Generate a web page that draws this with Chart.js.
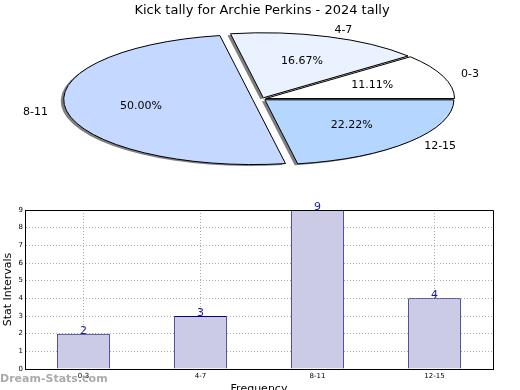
<!DOCTYPE html>
<html>
<head>
<meta charset="utf-8">
<script src="https://cdn.jsdelivr.net/npm/chart.js@4.4.1/dist/chart.umd.min.js"></script>
<style>
  html, body { margin: 0; padding: 0; background: #fff; overflow: hidden; }
  #wrap { position: relative; width: 520px; height: 390px; overflow: hidden; }
  #pie { position: absolute; left: 0; top: 0; }
  #bar { position: absolute; left: 0; top: 190px; }
</style>
</head>
<body>
<div id="wrap">
  <canvas id="pie" width="520" height="190"></canvas>
  <canvas id="bar" width="520" height="212"></canvas>
</div>
<script>
// ---- data ----
const titleText = 'Kick tally for Archie Perkins - 2024 tally';
const intervals = ['0-3', '4-7', '8-11', '12-15'];
const kicks = [2, 3, 9, 4];
const yMax = 9;
const yTitle = 'Stat Intervals';
const xTitle = 'Frequency';
const watermark = 'Dream-Stats.com';

// ---- styles ----
const sliceColors = ['#ffffff', '#eaf1ff', '#c5d8ff', '#b4d6ff'];
const explode = [0.02, 0.02, 0.05, 0.02];
const PIE_R = 189;
const SQUASH = 65 / 189;
const FONT = '"DejaVu Sans", sans-serif';

// pie is drawn as a circle by Chart.js, then squashed into an ellipse
const squashedPie = {
  id: 'squashedPie',
  beforeDatasetsDraw(chart) {
    const ctx = chart.ctx;
    const dpr = chart.currentDevicePixelRatio || 1;
    const arcs = chart.getDatasetMeta(0).data;
    let shadowPass = true;
    // keep outlines 1px in screen space
    ctx.stroke = function () {
      if (shadowPass) return;
      this.save();
      this.setTransform(dpr, 0, 0, dpr, 0, 0);
      CanvasRenderingContext2D.prototype.stroke.call(this);
      this.restore();
    };
    [true, false].forEach(pass => {
      shadowPass = pass;
      arcs.forEach((arc, i) => {
        const mid = (arc.startAngle + arc.endAngle) / 2;
        const push = explode[i] * arc.outerRadius;
        ctx.save();
        if (pass) {
          ctx.shadowColor = 'rgba(0,0,0,0.5)';
          ctx.shadowOffsetX = -3;
          ctx.shadowOffsetY = 1.5;
          ctx.shadowBlur = 0;
        }
        ctx.translate(arc.x, arc.y);
        ctx.scale(1, -SQUASH);
        ctx.translate(Math.cos(mid) * push - arc.x, Math.sin(mid) * push - arc.y);
        arc.draw(ctx);
        ctx.restore();
      });
    });
    delete ctx.stroke;
    return false;
  },
  afterDraw(chart) {
    const ctx = chart.ctx;
    const arcs = chart.getDatasetMeta(0).data;
    const total = kicks.reduce((a, b) => a + b, 0);
    ctx.save();
    ctx.font = '11px ' + FONT;
    ctx.fillStyle = '#000';
    ctx.textBaseline = 'middle';
    arcs.forEach((arc, i) => {
      const mid = (arc.startAngle + arc.endAngle) / 2;
      const push = explode[i] * arc.outerRadius;
      const at = f => ({
        x: arc.x + Math.cos(mid) * (push + f * arc.outerRadius),
        y: arc.y - Math.sin(mid) * (push + f * arc.outerRadius) * SQUASH
      });
      const out = at(1.1);
      ctx.textAlign = Math.cos(mid) >= 0 ? 'left' : 'right';
      ctx.fillText(intervals[i], out.x, out.y);
      const inner = at(0.6);
      ctx.textAlign = 'center';
      ctx.fillText((kicks[i] / total * 100).toFixed(2) + '%', inner.x, inner.y);
    });
    ctx.restore();
  }
};

new Chart(document.getElementById('pie'), {
  type: 'pie',
  data: {
    labels: intervals,
    datasets: [{
      data: kicks,
      backgroundColor: sliceColors,
      borderColor: '#000',
      borderWidth: 1,
      radius: PIE_R,
      rotation: 90,
      hoverOffset: 0
    }]
  },
  options: {
    responsive: false,
    animation: false,
    events: [],
    layout: { padding: { left: 4, right: 0, top: 0, bottom: 10.6 } },
    plugins: {
      legend: { display: false },
      tooltip: { enabled: false },
      title: {
        display: true,
        text: titleText,
        color: '#000',
        font: { family: FONT, size: 13, weight: 'normal' },
        padding: { top: 3, bottom: 0 }
      }
    }
  },
  plugins: [squashedPie]
});

// ---- bar chart ----
const barExtras = {
  id: 'barExtras',
  beforeDraw(chart) {
    const ctx = chart.ctx;
    ctx.save();
    ctx.font = 'bold 11px ' + FONT;
    ctx.fillStyle = '#ababab';
    ctx.textAlign = 'left';
    ctx.textBaseline = 'alphabetic';
    ctx.fillText(watermark, 0, 192);
    ctx.restore();
  },
  afterDraw(chart) {
    const { ctx, chartArea: a } = chart;
    const bars = chart.getDatasetMeta(0).data;
    ctx.save();
    ctx.strokeStyle = '#000';
    ctx.lineWidth = 1;
    ctx.beginPath();
    ctx.moveTo(a.left, a.top + 0.5);
    ctx.lineTo(a.right + 0.5, a.top + 0.5);
    ctx.lineTo(a.right + 0.5, a.bottom + 0.5);
    ctx.stroke();
    ctx.font = '11px ' + FONT;
    ctx.fillStyle = '#1c1c96';
    ctx.textAlign = 'center';
    ctx.textBaseline = 'alphabetic';
    bars.forEach((bar, i) => ctx.fillText(String(kicks[i]), bar.x, bar.y));
    ctx.restore();
  }
};

const gridStyle = { color: '#adadad', lineWidth: 1, drawTicks: false, offset: false };
const borderStyle = { display: true, color: '#000', width: 1, dash: [1, 2] };

new Chart(document.getElementById('bar'), {
  type: 'bar',
  data: {
    labels: intervals,
    datasets: [{
      data: kicks,
      backgroundColor: '#cbcbe5',
      borderColor: '#00007a',
      borderWidth: 1,
      barPercentage: 0.45,
      categoryPercentage: 1
    }]
  },
  options: {
    responsive: false,
    animation: false,
    events: [],
    layout: { padding: { top: 20, right: 27, left: 0, bottom: 0 } },
    plugins: { legend: { display: false }, tooltip: { enabled: false } },
    scales: {
      x: {
        z: 1,
        grid: gridStyle,
        border: borderStyle,
        ticks: { color: '#000', font: { family: FONT, size: 7 }, padding: 3, maxRotation: 0 },
        title: {
          display: true, text: xTitle, color: '#000',
          font: { family: FONT, size: 11 }, padding: { top: 0, bottom: 6 }
        },
        afterFit(scale) { scale.height = 33; }
      },
      y: {
        z: 1,
        min: 0,
        max: yMax,
        grid: gridStyle,
        border: borderStyle,
        ticks: { stepSize: 1, color: '#000', font: { family: FONT, size: 7 }, padding: 2 },
        title: {
          display: true, text: yTitle, color: '#000',
          font: { family: FONT, size: 11 }, padding: { top: 2, bottom: 0 }
        },
        afterFit(scale) { scale.width = 25; }
      }
    }
  },
  plugins: [barExtras]
});
</script>
</body>
</html>
